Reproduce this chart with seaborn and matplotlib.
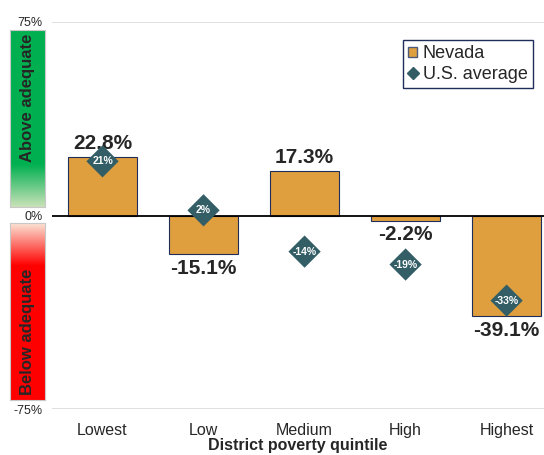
import numpy as np
import pandas as pd
import matplotlib
matplotlib.use("Agg")
import matplotlib.pyplot as plt
from matplotlib.colors import LinearSegmentedColormap
from matplotlib.patches import Patch
from matplotlib.lines import Line2D
import seaborn as sns

# data
quintiles = ["Lowest", "Low", "Medium", "High", "Highest"]
nevada = [22.8, -15.1, 17.3, -2.2, -39.1]
us_avg = [21, 2, -14, -19, -33]

df = pd.DataFrame({"quintile": quintiles, "nevada": nevada, "us": us_avg})

sns.set_theme(style="white")
plt.rcParams["font.family"] = ["Liberation Sans", "DejaVu Sans"]

BAR = "#E09F3E"
EDGE = "#1F2D5A"
TEAL = "#335E66"

W, H = 544, 455
fig = plt.figure(figsize=(W / 100, H / 100), dpi=100)
ax = fig.add_axes([52 / W, 1 - 409 / H, 492 / W, 387 / H])

sns.barplot(data=df, x="quintile", y="nevada", ax=ax, color=BAR,
            width=0.69, edgecolor=EDGE, linewidth=0.8, saturation=1)
sns.scatterplot(data=df, x="quintile", y="us", ax=ax, marker="D", s=270,
                color=TEAL, edgecolor="none", zorder=5, legend=False)

ax.set_xlim(-0.5, 4.37)
ax.set_ylim(-75, 75)
for s in ax.spines.values():
    s.set_visible(False)
ax.axhline(0, color="black", lw=1.3, zorder=4)
ax.axhline(75, color="#d9d9d9", lw=1.2, zorder=0)
ax.axhline(-75, color="#d9d9d9", lw=1.2, zorder=0)

ax.set_yticks([-75, 0, 75])
ax.set_yticklabels(["-75%", "0%", "75%"], fontsize=9)
ax.tick_params(axis="y", length=0, pad=7)
ax.tick_params(axis="x", length=0, pad=10, labelsize=11.5)
ax.set_ylabel("")
ax.set_xlabel("District poverty quintile", fontsize=11.5, fontweight="bold", labelpad=0)

for i, (v, u) in enumerate(zip(nevada, us_avg)):
    if v >= 0:
        ax.annotate(f"{v:.1f}%", (i, v), xytext=(0, 3), textcoords="offset points",
                    ha="center", va="bottom", fontsize=15, fontweight="bold")
    else:
        ax.annotate(f"{v:.1f}%", (i, v), xytext=(0, -3), textcoords="offset points",
                    ha="center", va="top", fontsize=15, fontweight="bold")
    ax.text(i, u, f"{u}%", ha="center", va="center", fontsize=7.5,
            fontweight="bold", color="white", zorder=6)

handles = [Patch(facecolor=BAR, edgecolor="#4a5a80", label="Nevada"),
           Line2D([], [], marker="D", color=TEAL, ls="none", markersize=6,
                  label="U.S. average")]
leg = ax.legend(handles=handles, loc="upper right",
                bbox_to_anchor=((533 - 52) / 492, 1 - 18 / 387),
                fontsize=13, frameon=True, fancybox=False, framealpha=1,
                handlelength=0.5, handleheight=0.5, handletextpad=0.3,
                borderpad=0.3, labelspacing=0.2, borderaxespad=0)
leg.get_frame().set_edgecolor(EDGE)
leg.get_frame().set_linewidth(1)

# gradient side boxes
green = LinearSegmentedColormap.from_list(
    "g", [(0, "#00B050"), (0.76, "#00B050"), (1, "#C9E2B8")])
red = LinearSegmentedColormap.from_list(
    "r", [(0, "#FBE3D4"), (0.24, "#FF0000"), (1, "#FF0000")])
grad = np.linspace(0, 1, 256).reshape(-1, 1)

gax = fig.add_axes([10 / W, 1 - 207 / H, 35 / W, 177 / H])
gax.imshow(grad, cmap=green, aspect="auto", extent=[0, 1, 1, 0])
gax.text(0.5, 0.98, "Above adequate", rotation=90, ha="center", va="top",
         fontsize=12, fontweight="bold", transform=gax.transAxes)

rax = fig.add_axes([10 / W, 1 - 400 / H, 35 / W, 177 / H])
rax.imshow(grad, cmap=red, aspect="auto", extent=[0, 1, 1, 0])
rax.text(0.5, 0.03, "Below adequate", rotation=90, ha="center", va="bottom",
         fontsize=12, fontweight="bold", transform=rax.transAxes)

for a in (gax, rax):
    a.set_xticks([])
    a.set_yticks([])
    for s in a.spines.values():
        s.set_visible(True)
        s.set_color("#c8c8c8")
        s.set_linewidth(0.8)

fig.savefig("out.png", dpi=100)
